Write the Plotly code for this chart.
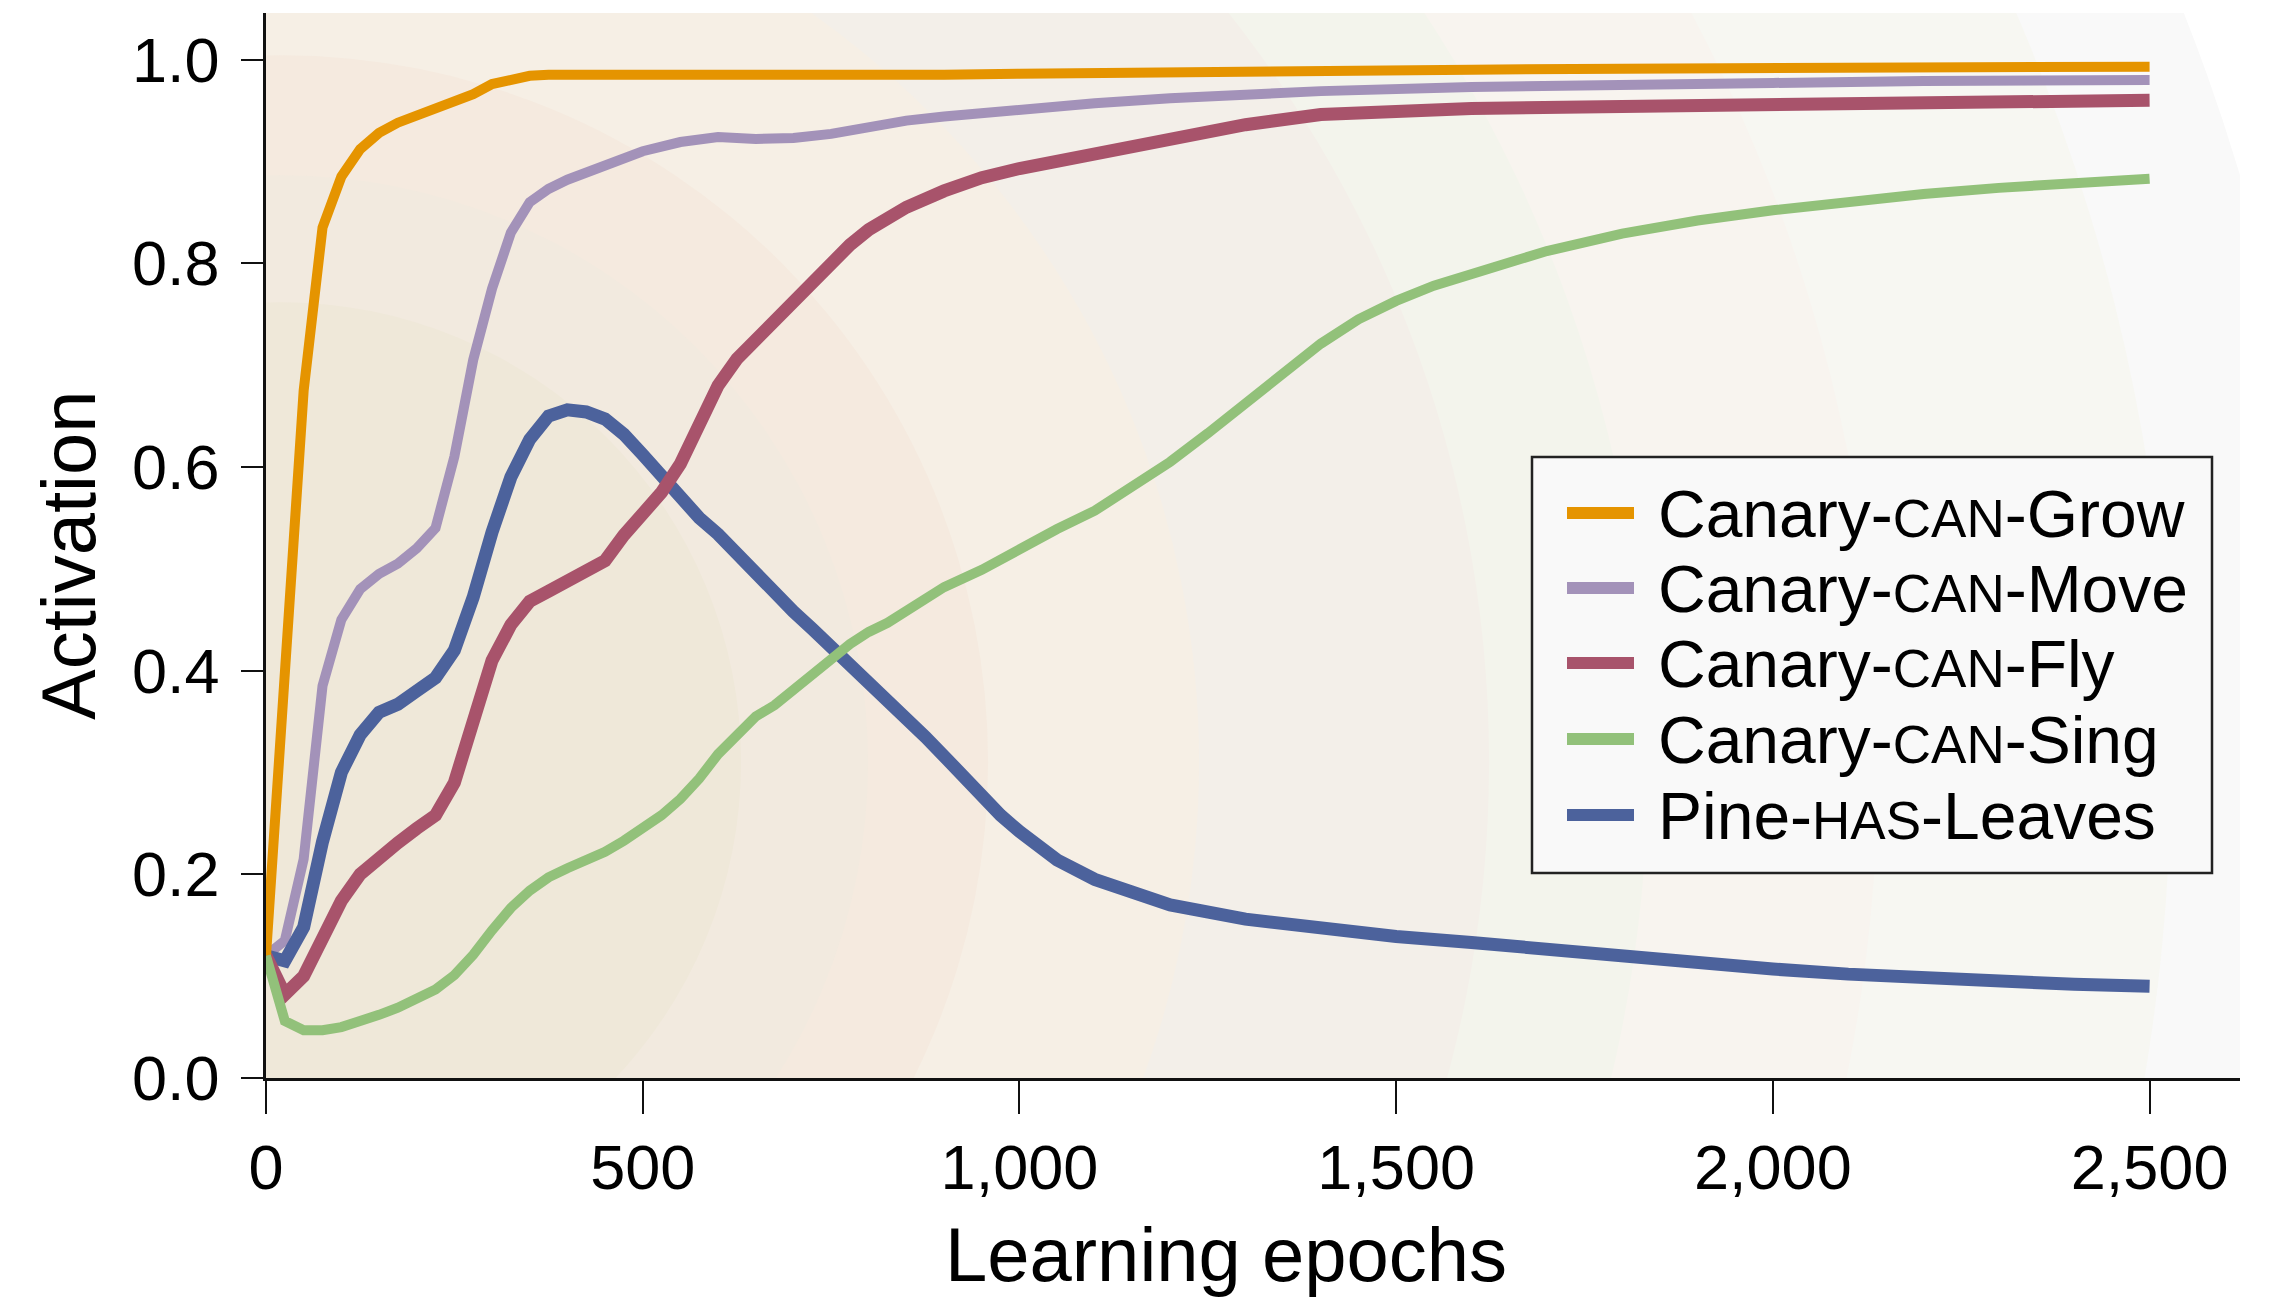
import plotly.graph_objects as go

# ---- activation curves (epochs, activation) ----
grow_x = [0, 25, 50, 75, 100, 125, 150, 175, 200, 225, 250, 275, 300, 325, 350, 375, 400, 450, 500,
          600, 700, 800, 900, 1000, 1200, 1400, 1600, 1800, 2000, 2200, 2500]
grow_y = [0.12, 0.41, 0.675, 0.835, 0.885, 0.912, 0.928, 0.938, 0.945, 0.950, 0.957, 0.966, 0.976,
          0.981, 0.984, 0.985, 0.985, 0.985, 0.985, 0.984, 0.983, 0.984, 0.985, 0.986, 0.988,
          0.989, 0.990, 0.991, 0.992, 0.992, 0.993]

move_x = [0, 25, 50, 75, 100, 125, 150, 175, 200, 225, 250, 275, 300, 325, 350, 375, 400, 450, 500,
          550, 600, 650, 700, 750, 800, 850, 900, 1000, 1100, 1200, 1300, 1400, 1600, 1800, 2000,
          2200, 2500]
move_y = [0.12, 0.135, 0.215, 0.385, 0.45, 0.48, 0.495, 0.505, 0.52, 0.54, 0.61, 0.705, 0.775, 0.83,
          0.86, 0.873, 0.882, 0.897, 0.91, 0.919, 0.924, 0.922, 0.923, 0.927, 0.934, 0.94, 0.944,
          0.951, 0.957, 0.962, 0.966, 0.969, 0.973, 0.976, 0.977, 0.979, 0.980]

fly_x = [0, 25, 50, 75, 100, 125, 150, 175, 200, 225, 250, 275, 300, 325, 350, 375, 400, 425, 450,
         475, 500, 525, 550, 575, 600, 625, 650, 675, 700, 725, 750, 775, 800, 850, 900, 950, 1000,
         1100, 1200, 1300, 1400, 1500, 1600, 1800, 2000, 2200, 2500]
fly_y = [0.12, 0.082, 0.10, 0.137, 0.174, 0.20, 0.217, 0.231, 0.245, 0.258, 0.29, 0.345, 0.41, 0.445,
         0.468, 0.478, 0.488, 0.499, 0.508, 0.533, 0.555, 0.575, 0.603, 0.643, 0.68, 0.706, 0.725,
         0.745, 0.76, 0.78, 0.80, 0.818, 0.833, 0.855, 0.871, 0.884, 0.893, 0.908, 0.922, 0.936,
         0.946, 0.950, 0.952, 0.954, 0.956, 0.958, 0.960]

sing_x = [0, 25, 50, 75, 100, 125, 150, 175, 200, 225, 250, 275, 300, 325, 350, 375, 400, 425, 450,
          475, 500, 525, 550, 575, 600, 625, 650, 675, 700, 725, 750, 775, 800, 825, 850, 875, 900,
          950, 1000, 1050, 1100, 1150, 1200, 1250, 1300, 1350, 1400, 1450, 1500, 1550, 1600, 1700,
          1800, 1900, 2000, 2100, 2200, 2300, 2400, 2500]
sing_y = [0.12, 0.056, 0.047, 0.047, 0.050, 0.055, 0.062, 0.069, 0.077, 0.087, 0.101, 0.121, 0.145,
          0.167, 0.184, 0.197, 0.206, 0.214, 0.222, 0.233, 0.245, 0.258, 0.274, 0.294, 0.318, 0.338,
          0.355, 0.366, 0.38, 0.395, 0.411, 0.426, 0.438, 0.447, 0.459, 0.472, 0.482, 0.499, 0.52,
          0.539, 0.557, 0.58, 0.605, 0.633, 0.663, 0.692, 0.721, 0.745, 0.763, 0.778, 0.790, 0.812,
          0.829, 0.842, 0.852, 0.861, 0.868, 0.874, 0.879, 0.883]

leaves_x = [0, 25, 50, 75, 100, 125, 150, 175, 200, 225, 250, 275, 300, 325, 350, 375, 400, 425,
            450, 475, 500, 525, 550, 575, 600, 625, 650, 675, 700, 725, 750, 775, 800, 825, 850,
            875, 900, 925, 950, 975, 1000, 1050, 1100, 1150, 1200, 1300, 1400, 1500, 1600, 1700,
            1800, 1900, 2000, 2100, 2200, 2300, 2400, 2500]
leaves_y = [0.12, 0.115, 0.148, 0.232, 0.30, 0.337, 0.359, 0.367, 0.38, 0.393, 0.42, 0.472, 0.536,
            0.59, 0.627, 0.65, 0.656, 0.654, 0.647, 0.632, 0.612, 0.59, 0.568, 0.55, 0.534, 0.514,
            0.494, 0.476, 0.458, 0.441, 0.424, 0.406, 0.389, 0.372, 0.354, 0.335, 0.316, 0.296,
            0.276, 0.258, 0.242, 0.214, 0.195, 0.181, 0.170, 0.156, 0.147, 0.139, 0.133, 0.126,
            0.119, 0.113, 0.107, 0.102, 0.098, 0.095, 0.092, 0.09]

x_ticks = [0, 500, 1000, 1500, 2000, 2500]
y_ticks = [0.0, 0.2, 0.4, 0.6, 0.8, 1.0]

# series: (legend prefix, relation, suffix, x, y, colour, width); drawn in this order
series = [
    ("Canary", "CAN", "Move", move_x, move_y, "#A392B9", 10),
    ("Pine", "HAS", "Leaves", leaves_x, leaves_y, "#4C629C", 13),
    ("Canary", "CAN", "Fly", fly_x, fly_y, "#A8536B", 13),
    ("Canary", "CAN", "Grow", grow_x, grow_y, "#E59400", 10),
    ("Canary", "CAN", "Sing", sing_x, sing_y, "#92C17A", 10),
]
legend_order = ["Grow", "Move", "Fly", "Sing", "Leaves"]

# ---- page geometry ----
W, H = 2289, 1300
ML, MR, MT, MB = 266, 49, 13, 222
PW, PH = W - ML - MR, H - MT - MB
X_MAX = 2620
Y_MAX = 1.0457
FONT = "Liberation Sans, Arial, Helvetica, sans-serif"


def px_to_paper(px, py):
    return (px - ML) / PW, (H - MB - py) / PH


fig = go.Figure()

for pre, rel, suf, xs, ys, col, lw in series:
    fig.add_trace(go.Scatter(
        x=xs, y=ys, mode="lines", name=f"{pre}-{rel}-{suf}",
        line=dict(color=col, width=lw, shape="linear"),
        showlegend=False, hoverinfo="skip",
    ))

# ---- soft radial backdrop: concentric bands around the lower-left ----
sx = PW / X_MAX          # px per epoch
sy = PH / Y_MAX          # px per activation unit
cx_d, cy_d = 20, 0.31    # band centre in data units
bands = [  # (radius in px, fill)
    (2045, "#F9F9F9"),
    (1890, "#F7F7F2"),
    (1597, "#F8F4EF"),
    (1367, "#F3F4EC"),
    (1208, "#F3EFE9"),
    (918, "#F6EFE5"),
    (707, "#F5EADF"),
    (587, "#F2EADF"),
    (460, "#EFE8D9"),
]
shapes = []
for r, col in bands:
    shapes.append(dict(
        type="circle", xref="x", yref="y", layer="below",
        x0=cx_d - r / sx, x1=cx_d + r / sx, y0=cy_d - r / sy, y1=cy_d + r / sy,
        fillcolor=col, line=dict(width=0),
    ))

# ---- legend panel ----
lx0, ly0 = px_to_paper(1532, 457)
lx1, ly1 = px_to_paper(2212, 873)
shapes.append(dict(type="rect", xref="paper", yref="paper", x0=lx0, x1=lx1, y0=ly1, y1=ly0,
                   fillcolor="#F9F9F9", line=dict(color="#222222", width=2.5), layer="above"))

annotations = []
row_y = [513, 588, 663, 739, 815]
by_suffix = {s[2]: s for s in series}
for i, key in enumerate(legend_order):
    pre, rel, suf, _, _, col, _ = by_suffix[key]
    sx0, sy0 = px_to_paper(1567, row_y[i])
    sx1, _ = px_to_paper(1634, row_y[i])
    shapes.append(dict(type="line", xref="paper", yref="paper", x0=sx0, x1=sx1, y0=sy0, y1=sy0,
                       line=dict(color=col, width=12), layer="above"))
    tx, ty = px_to_paper(1656, row_y[i] + 1)
    annotations.append(dict(
        xref="paper", yref="paper", x=tx, y=ty, xanchor="left", yanchor="middle",
        text=f'{pre}-<span style="font-size:53px">{rel}</span>-{suf}',
        showarrow=False, font=dict(family=FONT, size=66, color="#000000"),
    ))

# axis titles
tx, ty = px_to_paper(1226, 1254)
annotations.append(dict(xref="paper", yref="paper", x=tx, y=ty, xanchor="center", yanchor="middle",
                        text="Learning epochs", showarrow=False,
                        font=dict(family=FONT, size=76, color="#000000")))
tx, ty = px_to_paper(68, 555)
annotations.append(dict(xref="paper", yref="paper", x=tx, y=ty, xanchor="center", yanchor="middle",
                        text="Activation", textangle=-90, showarrow=False,
                        font=dict(family=FONT, size=76, color="#000000")))

fig.update_layout(
    width=W, height=H,
    margin=dict(l=ML, r=MR, t=MT, b=MB),
    paper_bgcolor="#FFFFFF", plot_bgcolor="#FFFFFF",
    font=dict(family=FONT, size=64, color="#000000"),
    shapes=shapes, annotations=annotations,
    showlegend=False,
)
fig.update_xaxes(
    range=[0, X_MAX], tickvals=x_ticks, tickformat=",d",
    showgrid=False, zeroline=False,
    showline=True, linecolor="#111111", linewidth=2.5,
    ticks="outside", ticklen=33, tickwidth=2, tickcolor="#111111",
    ticklabelstandoff=0,
    tickfont=dict(family=FONT, size=63, color="#000000"),
)
fig.update_yaxes(
    range=[0, Y_MAX], tickvals=y_ticks, tickformat=".1f",
    showgrid=False, zeroline=False,
    showline=True, linecolor="#111111", linewidth=2.5,
    ticks="outside", ticklen=22, tickwidth=2, tickcolor="#111111",
    ticklabelstandoff=9,
    tickfont=dict(family=FONT, size=63, color="#000000"),
)

fig.write_html("out.html")
